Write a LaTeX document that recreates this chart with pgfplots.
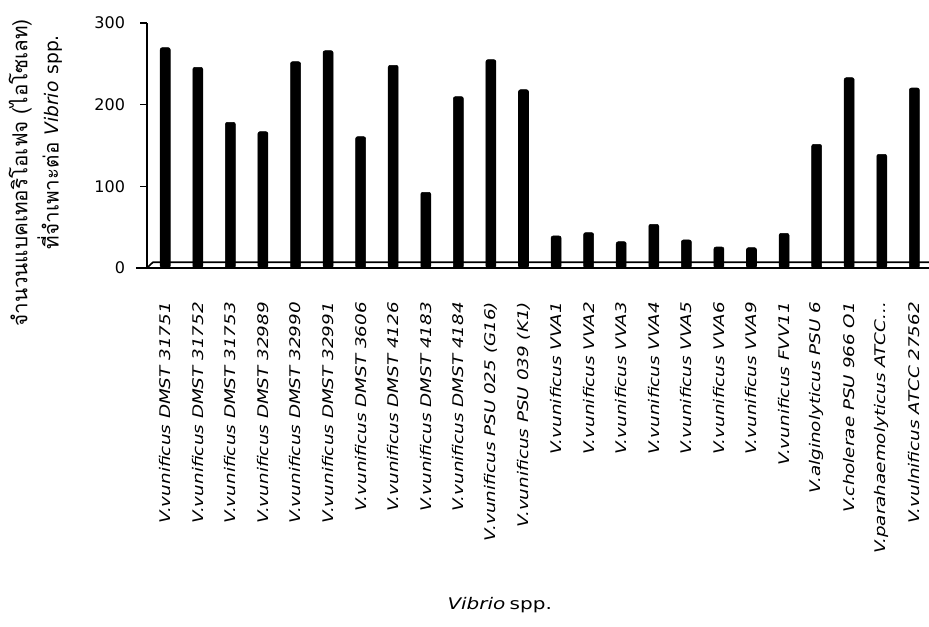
\documentclass[border=0pt]{standalone}
\usepackage{fontspec}
\usepackage{pgfplots}
\pgfplotsset{compat=1.18}
\setmainfont{DejaVu Sans}
\newfontfamily\labfont[FakeStretch=1.25]{DejaVu Sans}
\newfontfamily\thaifont[Script=Thai]{Loma}
\newfontfamily\latfont{DejaVu Sans}
\begin{document}
\begin{tikzpicture}
\useasboundingbox (0,0) rectangle (696.75pt,469.5pt);
\begin{axis}[
  at={(110.25pt,268.5pt)}, anchor=south west,
  scale only axis, width=586.5pt, height=183.75pt,
  xmin=-0.56, xmax=23.45, ymin=0, ymax=300,
  axis x line=bottom, axis y line=left,
  axis line style={-, line width=1.6pt},
  ytick={0,100,200,300},
  tick align=outside, major tick length=5pt,
  tick style={line width=1.2pt, black},
  xtick={0,...,23}, x tick style={draw=none},
  xticklabels={
    V.vunificus DMST 31751, V.vunificus DMST 31752, V.vunificus DMST 31753,
    V.vunificus DMST 32989, V.vunificus DMST 32990, V.vunificus DMST 32991,
    V.vunificus DMST 3606, V.vunificus DMST 4126, V.vunificus DMST 4183,
    V.vunificus DMST 4184, V.vunificus PSU 025 (G16), V.vunificus PSU 039 (K1),
    V.vunificus VVA1, V.vunificus VVA2, V.vunificus VVA3, V.vunificus VVA4,
    V.vunificus VVA5, V.vunificus VVA6, V.vunificus VVA9, V.vunificus FVV11,
    V.alginolyticus PSU 6, V.cholerae PSU 966 O1, {V.parahaemolyticus ATCC{.}{.}{.}},
    V.vulnificus ATCC 27562},
  xticklabel style={font=\labfont\itshape\fontsize{11}{13}\selectfont, yshift=-17pt, rotate=90, anchor=east},
  yticklabel style={font=\latfont\fontsize{12}{14}\selectfont, xshift=-8pt},
  /pgf/number format/assume math mode=true,
  ylabel={\thaifont\fontsize{15.5}{18}\selectfont จำนวนแบคเทอริโอเฟจ (ไอโซเลท)},
  ylabel style={at={(axis description cs:-0.162,0.388)}, anchor=center, rotate=0},
  xlabel={{\labfont\itshape\fontsize{12}{14}\selectfont Vibrio} {\labfont\fontsize{12}{14}\selectfont spp.}},
  xlabel style={at={(axis description cs:0.451,-1.375)}, anchor=center},
  clip=false,
]
\node[rotate=90, anchor=center] at (axis description cs:-0.124,0.514)
  {\thaifont\fontsize{15.5}{18}\selectfont ที่จำเพาะต่อ {\latfont\itshape\fontsize{14}{16}\selectfont Vibrio} {\latfont\fontsize{14}{16}\selectfont spp.}};
\draw[line width=1.2pt] (axis cs:-0.56,0) -- (axis cs:-0.38,7) -- (axis cs:23.45,7);
\draw[line width=1.6pt] (axis cs:-0.9,0) -- (axis cs:-0.56,0);
\addplot[ybar, bar width=7.5pt, fill=black, draw=black, rounded corners=1.5pt] coordinates {
(0,269.8) (1,245.7) (2,178.4) (3,166.9) (4,252.6) (5,266.1) (6,160.8) (7,248.2)
(8,92.7) (9,209.8) (10,255.1) (11,218.3) (12,39.2) (13,43.3) (14,32.2) (15,53.5)
(16,34.3) (17,25.7) (18,24.9) (19,42.4) (20,151.4) (21,233.0) (22,139.2) (23,220.4)
};
\end{axis}
\end{tikzpicture}
\end{document}
